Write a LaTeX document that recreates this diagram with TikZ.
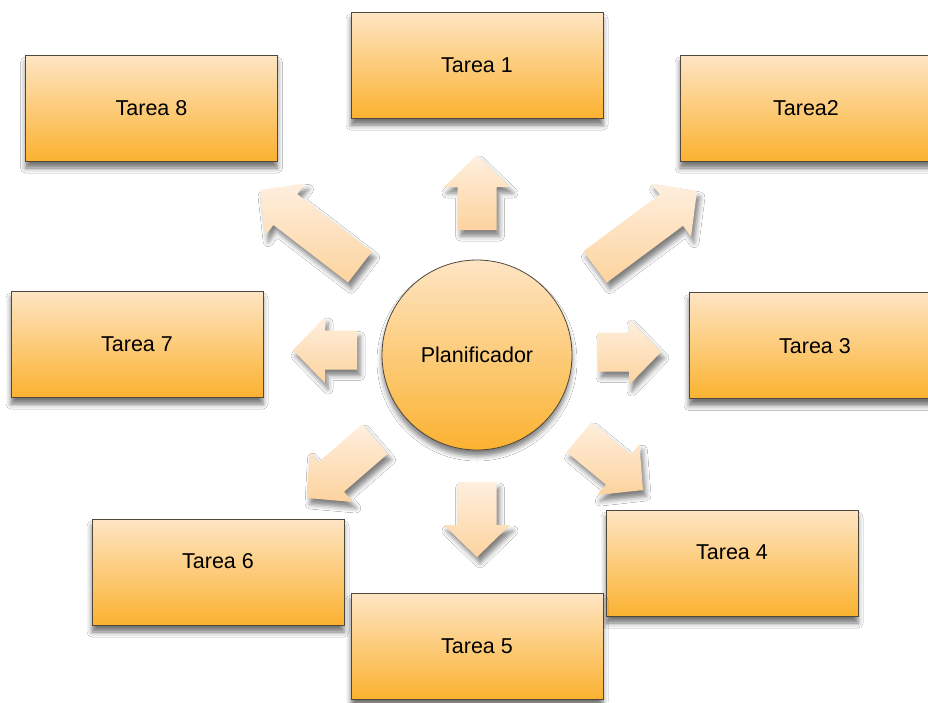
\documentclass[tikz,border=0pt]{standalone}
\usepackage{fontspec}
\setmainfont{Liberation Sans}
\usetikzlibrary{calc,shadows.blur}
\definecolor{boxtop}{RGB}{254,229,196}
\definecolor{boxbot}{RGB}{251,178,48}
\definecolor{arrtop}{RGB}{254,239,222}
\definecolor{arrbot}{RGB}{253,211,158}
\definecolor{edgecol}{RGB}{80,72,60}
\tikzset{
  tbox/.style={draw=edgecol, line width=0.8pt, top color=boxtop, bottom color=boxbot,
    minimum width=252pt, minimum height=106pt, inner sep=0pt,
    text height=15.5pt, text depth=0pt, font=\fontsize{21.5}{24}\selectfont,
    blur shadow={shadow xshift=0pt, shadow yshift=-7pt, shadow blur radius=5pt, shadow opacity=55}},
  raised/.style={text depth=22pt},
  circ/.style={circle, draw=edgecol, line width=0.8pt, top color=boxtop, bottom color=boxbot,
    minimum size=190pt, inner sep=0pt, font=\fontsize{21.5}{24}\selectfont,
    blur shadow={shadow xshift=0pt, shadow yshift=-6pt, shadow blur radius=5pt, shadow opacity=50}},
  arr/.style={top color=arrtop, bottom color=arrbot,
    blur shadow={shadow xshift=3pt, shadow yshift=-6pt, shadow blur radius=5pt, shadow opacity=50}},
}
\newcommand\blockarrow[2]{%
  \coordinate (#1h) at ($(#2)!32pt!(#1)$);
  \path[arr] ($(#1)!19.5pt!90:(#2)$) -- ($(#1h)!19.5pt!90:(#2)$) -- ($(#1h)!33pt!90:(#2)$)
    -- (#2) -- ($(#1h)!33pt!-90:(#2)$) -- ($(#1h)!19.5pt!-90:(#2)$) -- ($(#1)!19.5pt!-90:(#2)$) -- cycle;
}
\begin{document}
\begin{tikzpicture}[x=1pt,y=-1pt]
\useasboundingbox (0,0) rectangle (928,702);
\fill[white] (0,0) rectangle (928,702);

\node[tbox] (t1) at (477,65) {Tarea 1};
\node[tbox] (t8) at (151.5,108) {Tarea 8};
\node[tbox] (t2) at (806,108) {Tarea2};
\node[tbox] (t7) at (137,344) {Tarea 7};
\node[tbox] (t3) at (815,345.5) {Tarea 3};
\node[tbox,raised] (t6) at (218,572) {Tarea 6};
\node[tbox,raised] (t4) at (732,563) {Tarea 4};
\node[tbox] (t5) at (477,646) {Tarea 5};

\node[circ] (plan) at (477,355) {Planificador};

\coordinate (aU) at (477,230);   \coordinate (aUp) at (477,155);
\coordinate (aD) at (477,482);   \coordinate (aDp) at (477,557);
\coordinate (aR) at (598,352);   \coordinate (aRp) at (661,352);
\coordinate (aL) at (357,350);   \coordinate (aLp) at (293,350);
\coordinate (aUL) at (360,267);  \coordinate (aULp) at (260,190);
\coordinate (aUR) at (595,267);  \coordinate (aURp) at (697,191);
\coordinate (aDL) at (375,439);  \coordinate (aDLp) at (307,498);
\coordinate (aDR) at (579,437);  \coordinate (aDRp) at (643,490);

\blockarrow{aU}{aUp}
\blockarrow{aD}{aDp}
\blockarrow{aR}{aRp}
\blockarrow{aL}{aLp}
\blockarrow{aUL}{aULp}
\blockarrow{aUR}{aURp}
\blockarrow{aDL}{aDLp}
\blockarrow{aDR}{aDRp}
\end{tikzpicture}
\end{document}
